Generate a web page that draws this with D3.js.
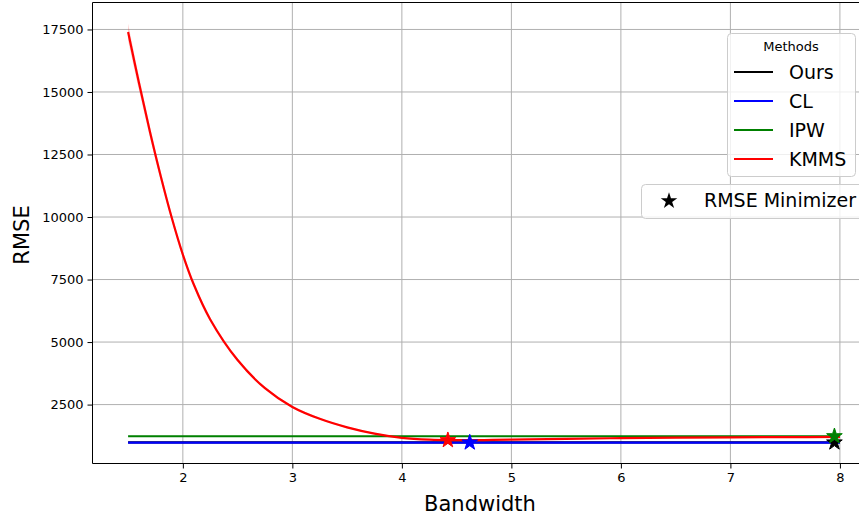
<!DOCTYPE html>
<html>
<head>
<meta charset="utf-8">
<script src="https://cdn.jsdelivr.net/npm/d3@7"></script>
<style>
  html, body { margin: 0; padding: 0; background: #fff; }
  svg { display: block; font-family: "DejaVu Sans", sans-serif; }
</style>
</head>
<body>
<svg id="chart" width="859" height="521"></svg>
<script>
// Methods and colours
const methods = ["Ours", "CL", "IPW", "KMMS"];
const colors = ["#000000", "#0000ff", "#008000", "#ff0000"];

// Bandwidth grid of the KMMS curve
const bandwidth = [1.5, 1.6, 1.7, 1.8, 1.9, 2.0, 2.1, 2.25, 2.5, 2.75, 3.0, 3.25, 3.5,
                   3.75, 4.0, 4.25, 4.5, 4.75, 5.0, 5.5, 6.0, 6.5, 7.0, 7.5, 8.0];
// KMMS RMSE and its spread
const kmmsRmse = [17400, 15350, 13400, 11600, 9950, 8500, 7300, 5905, 4280, 3155, 2405, 1930, 1590,
                  1340, 1170, 1095, 1076, 1082, 1098, 1130, 1158, 1176, 1190, 1199, 1207];
const kmmsSpread = [340, 270, 220, 180, 150, 130, 110, 90, 70, 55, 45, 40, 35,
                    30, 28, 26, 25, 25, 25, 25, 25, 25, 25, 25, 25];
// Constant-in-bandwidth methods: RMSE and spread
const flatRmse = [985, 982, 1234];
const flatSpread = [15, 15, 15];
// RMSE minimizers per method (bandwidth, RMSE)
const minBandwidth = [7.95, 4.62, 7.95, 4.42];
const minRmse = [985, 982, 1234, 1076];

const xTicks = [2, 3, 4, 5, 6, 7, 8];
const yTicks = [2500, 5000, 7500, 10000, 12500, 15000, 17500];

const svg = d3.select("#chart");
const mLeft = 92.5, mTop = 2.5, mBottom = 463.5, mRight = 875.5;

const x = d3.scaleLinear().domain([1.175, 8.325]).range([mLeft, mRight]);
const y = d3.scaleLinear().domain([144, 18578]).range([mBottom, mTop]);

svg.append("defs").append("clipPath").attr("id", "plotclip")
  .append("rect").attr("x", mLeft).attr("y", mTop).attr("width", mRight - mLeft).attr("height", mBottom - mTop);

// Grid
const grid = svg.append("g");
grid.selectAll(".gx").data(xTicks).join("line")
  .attr("x1", d => x(d)).attr("x2", d => x(d)).attr("y1", mTop).attr("y2", mBottom)
  .attr("stroke", "#b0b0b0").attr("stroke-width", 1);
grid.selectAll(".gy").data(yTicks).join("line")
  .attr("x1", mLeft).attr("x2", mRight).attr("y1", d => y(d)).attr("y2", d => y(d))
  .attr("stroke", "#b0b0b0").attr("stroke-width", 1);

const plot = svg.append("g").attr("clip-path", "url(#plotclip)");

const curve = d3.curveCatmullRom.alpha(0.5);
const xsFlat = [bandwidth[0], bandwidth[bandwidth.length - 1]];

// Bands
methods.forEach((m, i) => {
  let pts;
  if (i < 3) pts = xsFlat.map(b => ({b, v: flatRmse[i], s: flatSpread[i]}));
  else pts = bandwidth.map((b, k) => ({b, v: kmmsRmse[k], s: kmmsSpread[k]}));
  plot.append("path").datum(pts)
    .attr("d", d3.area().curve(curve).x(d => x(d.b)).y0(d => y(d.v - d.s)).y1(d => y(d.v + d.s)))
    .attr("fill", colors[i]).attr("fill-opacity", 0.2);
});

// Lines
methods.forEach((m, i) => {
  let pts;
  if (i < 3) pts = xsFlat.map(b => ({b, v: flatRmse[i]}));
  else pts = bandwidth.map((b, k) => ({b, v: kmmsRmse[k]}));
  plot.append("path").datum(pts)
    .attr("d", d3.line().curve(curve).x(d => x(d.b)).y(d => y(d.v)))
    .attr("fill", "none").attr("stroke", colors[i]).attr("stroke-width", 2.2);
});

// Minimizer stars
const star = d3.symbol().type(d3.symbolStar).size(76);
methods.forEach((m, i) => {
  plot.append("path").attr("d", star())
    .attr("transform", `translate(${x(minBandwidth[i])},${y(minRmse[i])})`)
    .attr("fill", colors[i]).attr("stroke", colors[i]).attr("stroke-width", 1);
});

// Axes
const xAxis = svg.append("g").attr("transform", `translate(0,${mBottom})`)
  .call(d3.axisBottom(x).tickValues(xTicks).tickFormat(d3.format("d")).tickSize(5).tickPadding(4));
const yAxis = svg.append("g").attr("transform", `translate(${mLeft},0)`)
  .call(d3.axisLeft(y).tickValues(yTicks).tickFormat(d3.format("d")).tickSize(5).tickPadding(4));
[xAxis, yAxis].forEach(a => {
  a.select(".domain").remove();
  a.selectAll("text").attr("font-size", 13).attr("fill", "#000").attr("font-family", "DejaVu Sans");
  a.selectAll("line").attr("stroke", "#000");
});

// Spines (left, bottom, top)
svg.append("line").attr("x1", mLeft).attr("x2", mLeft).attr("y1", mTop).attr("y2", mBottom).attr("stroke", "#000");
svg.append("line").attr("x1", mLeft).attr("x2", mRight).attr("y1", mBottom).attr("y2", mBottom).attr("stroke", "#000");
svg.append("line").attr("x1", mLeft).attr("x2", mRight).attr("y1", mTop).attr("y2", mTop).attr("stroke", "#000");

// Axis titles
svg.append("text").attr("x", 480).attr("y", 511).attr("text-anchor", "middle")
  .attr("font-size", 21).text("Bandwidth");
svg.append("text").attr("transform", "translate(29,235) rotate(-90)").attr("text-anchor", "middle")
  .attr("font-size", 21).text("RMSE");

// Methods legend
const lg = svg.append("g");
lg.append("rect").attr("x", 727.5).attr("y", 33.5).attr("width", 128).attr("height", 143).attr("rx", 4)
  .attr("fill", "#fff").attr("fill-opacity", 0.8).attr("stroke", "#cccccc");
lg.append("text").attr("x", 791).attr("y", 51).attr("text-anchor", "middle").attr("font-size", 13).text("Methods");
methods.forEach((m, i) => {
  const yy = 72 + i * 29;
  lg.append("line").attr("x1", 734).attr("x2", 773).attr("y1", yy).attr("y2", yy)
    .attr("stroke", colors[i]).attr("stroke-width", 2.2);
  lg.append("text").attr("x", 789).attr("y", yy + 7).attr("font-size", 19).text(m);
});

// Minimizer legend
const lg2 = svg.append("g");
lg2.append("rect").attr("x", 641.5).attr("y", 184.5).attr("width", 240).attr("height", 34).attr("rx", 4)
  .attr("fill", "#fff").attr("fill-opacity", 0.8).attr("stroke", "#cccccc");
lg2.append("path").attr("d", d3.symbol().type(d3.symbolStar).size(85)())
  .attr("transform", "translate(669,201)").attr("fill", "#000");
lg2.append("text").attr("x", 704).attr("y", 207).attr("font-size", 19).text("RMSE Minimizer");
</script>
</body>
</html>
